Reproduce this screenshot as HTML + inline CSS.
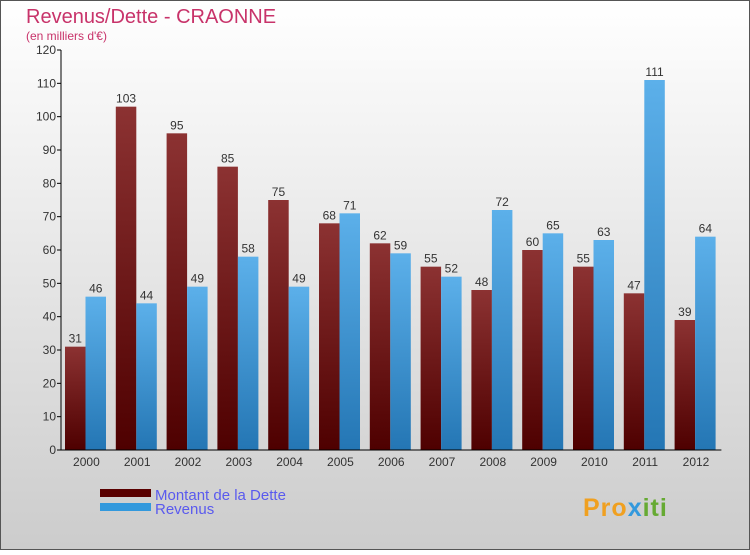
<!DOCTYPE html>
<html><head><meta charset="utf-8"><style>
body{margin:0}
svg text{font-family:"Liberation Sans",sans-serif}
</style></head><body>
<svg id="chart" width="750" height="550" xmlns="http://www.w3.org/2000/svg">
<defs>
<linearGradient id="bg" x1="0" y1="0" x2="0" y2="1"><stop offset="0" stop-color="#ffffff"/><stop offset="1" stop-color="#cccccc"/></linearGradient>
<linearGradient id="gd" x1="0" y1="0" x2="0" y2="1"><stop offset="0" stop-color="#8c3232"/><stop offset="1" stop-color="#4e0000"/></linearGradient>
<linearGradient id="gr" x1="0" y1="0" x2="0" y2="1"><stop offset="0" stop-color="#5cb0ea"/><stop offset="1" stop-color="#2476b4"/></linearGradient>
</defs>
<rect x="0.5" y="0.5" width="749" height="549" fill="url(#bg)" stroke="#555"/>
<text x="26" y="23" font-size="20" fill="#c8336a">Revenus/Dette - CRAONNE</text>
<text x="26" y="40" font-size="12" fill="#c8336a">(en milliers d'€)</text>
<g id="plot"></g>
<rect x="100" y="489" width="51" height="8" fill="#5a0000"/>
<rect x="100" y="503" width="51" height="8" fill="#3399dd"/>
<text x="155" y="500" font-size="15" fill="#5a5aee">Montant de la Dette</text>
<text x="155" y="514" font-size="15" fill="#5a5aee">Revenus</text>
<text x="583" y="516" font-size="25" font-weight="bold" fill="#f0a020" letter-spacing="1">Pro<tspan fill="#3399dd">x</tspan><tspan fill="#66aa33">iti</tspan></text>
</svg>
<script>
const categories=["2000","2001","2002","2003","2004","2005","2006","2007","2008","2009","2010","2011","2012"];
const dette=[31,103,95,85,75,68,62,55,48,60,55,47,39];
const revenus=[46,44,49,58,49,71,59,52,72,65,63,111,64];
const yTicks=[0,10,20,30,40,50,60,70,80,90,100,110,120];
const NS="http://www.w3.org/2000/svg";
const g=document.getElementById('plot');
const x0=61,step=50.8,y0=450,yTop=50,yMax=120;
const y=v=>y0-(v/yMax)*(y0-yTop);
const bx=i=>x0+i*step;
function mk(t,a){const e=document.createElementNS(NS,t);for(const k in a)e.setAttribute(k,a[k]);g.appendChild(e);return e;}
yTicks.forEach(v=>{
 const l=mk('line',{x1:x0-4,x2:x0,y1:y(v),y2:y(v),stroke:'#000'});
 
 
 const t=mk('text',{x:x0-5,y:y(v)+4,'font-size':12,'text-anchor':'end',fill:'#333'});
 t.textContent=v;
 
 
});
categories.forEach((c,i)=>{
 const t=mk('text',{x:bx(i)+step/2,y:y0+16,'font-size':12,'text-anchor':'middle',fill:'#333'});
 t.textContent=c;
 
 
 const xd=bx(i)+4,w=20.5;
 const r1=mk('rect',{x:xd,y:y(dette[i]),width:w,height:y0-y(dette[i]),fill:'url(#gd)'});
 
 
 const r2=mk('rect',{x:xd+w,y:y(revenus[i]),width:w,height:y0-y(revenus[i]),fill:'url(#gr)'});
 
 
 const l1=mk('text',{x:xd+w/2,y:y(dette[i])-4,'font-size':12,'text-anchor':'middle',fill:'#333'});
 l1.textContent=dette[i];
 
 
 const l2=mk('text',{x:xd+w*1.5,y:y(revenus[i])-4,'font-size':12,'text-anchor':'middle',fill:'#333'});
 l2.textContent=revenus[i];
 
 
});
const ya=mk('line',{x1:x0,x2:x0,y1:yTop,y2:y0,stroke:'#000'});


const xa=mk('line',{x1:x0,x2:bx(categories.length),y1:y0,y2:y0,stroke:'#000'});


</script>
</body></html>
